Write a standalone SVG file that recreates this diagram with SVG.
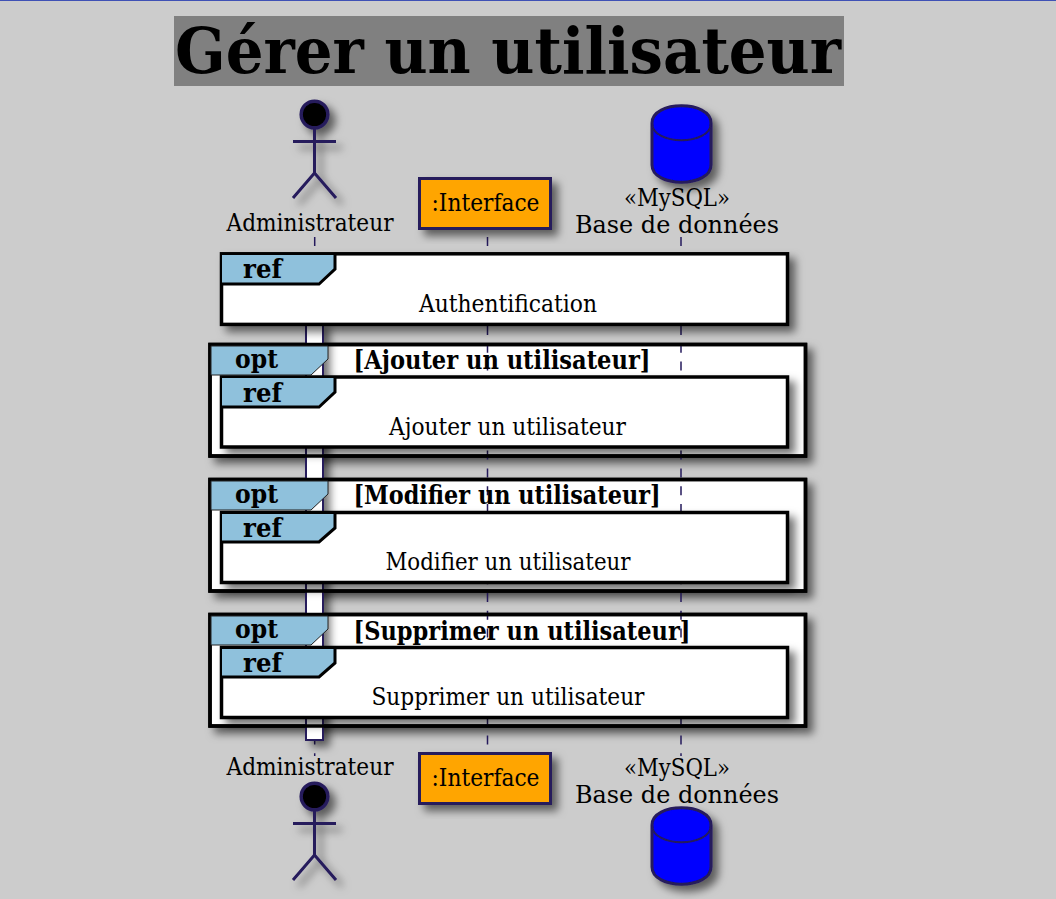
<svg xmlns="http://www.w3.org/2000/svg" width="1056" height="899" viewBox="0 0 1056 899">
<style>
.t{font-family:"DejaVu Serif",serif;font-size:24px;fill:#000}
.b{font-family:"DejaVu Serif",serif;font-size:26px;font-weight:bold;fill:#000}
.ll{stroke:#251a5c;stroke-width:1.5;stroke-dasharray:9 8.800;fill:none}
.fr{fill:#fff;stroke:#000;stroke-width:3.500}
.bd{fill:none;stroke:#000;stroke-width:3.500}
.tab{fill:#8fc1dc}
.tabo{fill:#8fc1dc;stroke:#222;stroke-width:1}
.tabl{fill:none;stroke:#000;stroke-width:3}
.a{fill:none;stroke:#251a5c;stroke-width:3}
.c{fill:none;stroke:#251a5c;stroke-width:2}
.head{fill:#000;stroke:#251a5c;stroke-width:3.500}
.db{fill:#0000ff;stroke:#251a5c;stroke-width:3}
.box{fill:#ffa500;stroke:#251a5c;stroke-width:3}
.act{fill:#fff;stroke:#251a5c;stroke-width:2}
</style>
<defs>
<filter id="s" x="-100%" y="-30%" width="300%" height="160%"><feDropShadow dx="6" dy="6" stdDeviation="4" flood-color="#000" flood-opacity="0.55"/></filter>
</defs>
<rect width="1056" height="899" fill="#cccccc"/>
<rect width="1056" height="1" fill="#3f51b5"/>
<g id="title"><rect x="174" y="16" width="670" height="70" fill="#808080"/>
<text x="175" y="73" font-family="DejaVu Serif, serif" font-size="64" font-weight="bold" textLength="666" lengthAdjust="spacingAndGlyphs">Gérer un utilisateur</text></g>
<g id="opt-fills">
<rect class="fr" x="210" y="344.500" width="595.500" height="111.500" filter="url(#s)"/>
<rect class="fr" x="210" y="479.500" width="595.500" height="111.500" filter="url(#s)"/>
<rect class="fr" x="210" y="614.500" width="595.500" height="111.500" filter="url(#s)"/>
</g>
<g id="connectors">
<path class="ll" d="M314.700 237V756M487.500 237V756M681 237V756"/>
</g>
<g id="activation"><rect class="act" x="306" y="322" width="17" height="418" filter="url(#s)"/></g>
<g id="administrateur-top">
<g filter="url(#s)"><circle class="head" cx="314.500" cy="114.500" r="13.300"/><path class="a" d="M314.500 128V173M293 141.500H336M293 198L314.500 173L336 198"/></g>
<text class="t" x="226.500" y="231" textLength="167" lengthAdjust="spacingAndGlyphs">Administrateur</text></g>
<g id="interface-top"><rect class="box" x="419.500" y="178.500" width="131" height="50" filter="url(#s)"/><text class="t" x="431.500" y="211" textLength="108" lengthAdjust="spacingAndGlyphs">:Interface</text></g>
<g id="db-top"><g filter="url(#s)"><path class="db" d="M652 123C652 100 711 100 711 123V165C711 188 652 188 652 165Z"/><path class="c" d="M652 123C652 146 711 146 711 123"/></g>
<text class="t" x="624" y="206" textLength="106" lengthAdjust="spacingAndGlyphs">«MySQL»</text><text class="t" x="575" y="233" textLength="204" lengthAdjust="spacingAndGlyphs">Base de données</text></g>
<g id="ref-auth"><rect class="fr" x="221.500" y="253.800" width="566" height="70.600" filter="url(#s)"/><path class="tab" d="M222 255H334V269L318 283H222Z"/><path class="tabl" d="M335 254V269L319 284H222"/><text class="b" x="243" y="278" textLength="39" lengthAdjust="spacingAndGlyphs">ref</text><text class="t" x="419" y="312" textLength="178" lengthAdjust="spacingAndGlyphs">Authentification</text></g>

<g id="opt-add"><rect class="bd" x="210" y="344.500" width="595.500" height="111.500"/>
<path class="tabo" d="M211 346H328V359L311 375H211Z"/>
<text class="b" x="235" y="368" textLength="43" lengthAdjust="spacingAndGlyphs">opt</text>
<text class="b" x="353.500" y="369" textLength="297" lengthAdjust="spacingAndGlyphs">[Ajouter un utilisateur]</text>
<rect class="fr" x="221.500" y="377" width="566" height="70" filter="url(#s)"/><path class="tab" d="M222 378H334V392L318 406H222Z"/><path class="tabl" d="M335 377V392L319 407H222"/><text class="b" x="243" y="402" textLength="39" lengthAdjust="spacingAndGlyphs">ref</text><text class="t" x="389" y="435" textLength="237" lengthAdjust="spacingAndGlyphs">Ajouter un utilisateur</text></g>

<g id="opt-mod"><rect class="bd" x="210" y="479.500" width="595.500" height="111.500"/>
<path class="tabo" d="M211 481H328V494L311 510H211Z"/>
<text class="b" x="235" y="503" textLength="43" lengthAdjust="spacingAndGlyphs">opt</text>
<text class="b" x="353.500" y="504" textLength="307" lengthAdjust="spacingAndGlyphs">[Modifier un utilisateur]</text>
<rect class="fr" x="221.500" y="512.500" width="566" height="70" filter="url(#s)"/><path class="tab" d="M222 514H334V528L318 541H222Z"/><path class="tabl" d="M335 513V528L319 542H222"/><text class="b" x="243" y="537" textLength="39" lengthAdjust="spacingAndGlyphs">ref</text><text class="t" x="385.500" y="570" textLength="245" lengthAdjust="spacingAndGlyphs">Modifier un utilisateur</text></g>

<g id="opt-del"><rect class="bd" x="210" y="614.500" width="595.500" height="111.500"/>
<path class="tabo" d="M211 616H328V629L311 645H211Z"/>
<text class="b" x="235" y="638" textLength="43" lengthAdjust="spacingAndGlyphs">opt</text>
<text class="b" x="353.500" y="640" textLength="337" lengthAdjust="spacingAndGlyphs">[Supprimer un utilisateur]</text>
<rect class="fr" x="221.500" y="647.500" width="566" height="70" filter="url(#s)"/><path class="tab" d="M222 649H334V663L318 676H222Z"/><path class="tabl" d="M335 648V663L319 677H222"/><text class="b" x="243" y="672" textLength="39" lengthAdjust="spacingAndGlyphs">ref</text><text class="t" x="371.500" y="705" textLength="273" lengthAdjust="spacingAndGlyphs">Supprimer un utilisateur</text></g>

<g id="administrateur-bottom"><text class="t" x="226.500" y="775" textLength="167" lengthAdjust="spacingAndGlyphs">Administrateur</text>
<g filter="url(#s)"><circle class="head" cx="314.500" cy="796.500" r="13.300"/><path class="a" d="M314.500 810V855M293 823.500H336M293 880L314.500 855L336 880"/></g></g>
<g id="interface-bottom"><rect class="box" x="419.500" y="753.500" width="131" height="50" filter="url(#s)"/><text class="t" x="431.500" y="786" textLength="108" lengthAdjust="spacingAndGlyphs">:Interface</text></g>
<g id="db-bottom"><text class="t" x="624" y="776" textLength="106" lengthAdjust="spacingAndGlyphs">«MySQL»</text><text class="t" x="575" y="803" textLength="204" lengthAdjust="spacingAndGlyphs">Base de données</text>
<g filter="url(#s)"><path class="db" d="M652 825C652 802 711 802 711 825V867C711 890 652 890 652 867Z"/><path class="c" d="M652 825C652 848 711 848 711 825"/></g></g>
</svg>
